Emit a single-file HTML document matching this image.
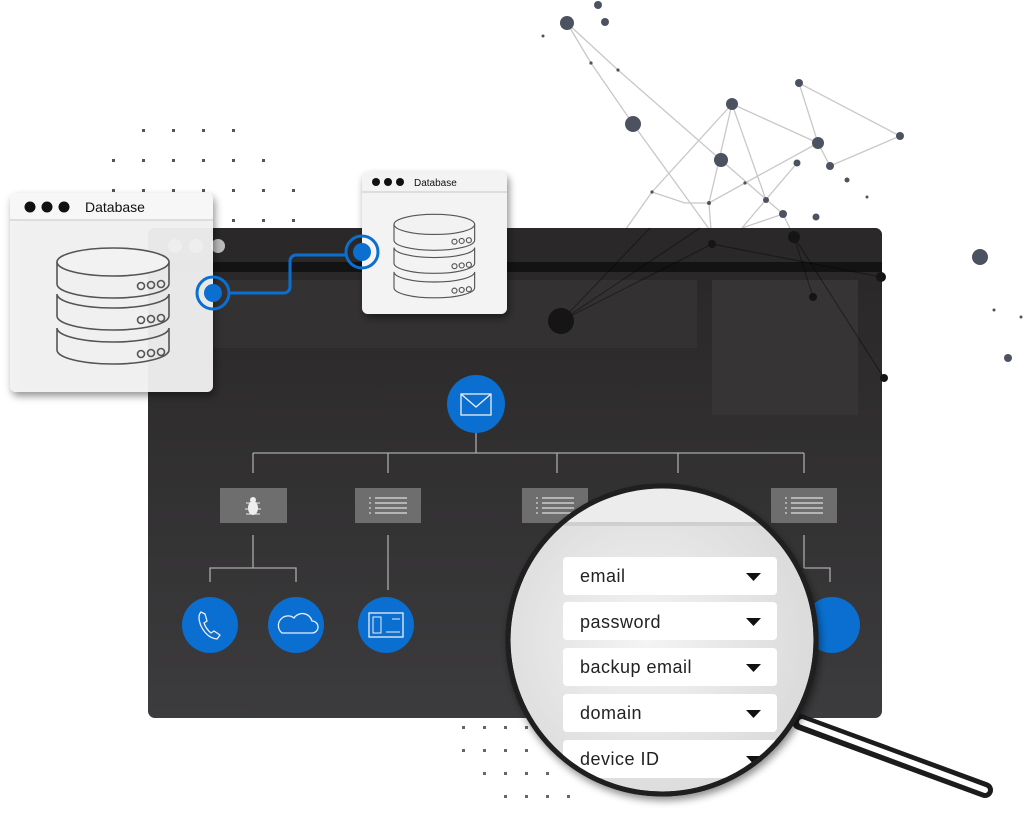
<!DOCTYPE html>
<html><head><meta charset="utf-8"><style>
html,body{margin:0;padding:0;background:#fff;width:1024px;height:813px;overflow:hidden}
svg{display:block}
text{font-family:"Liberation Sans",sans-serif}
</style></head><body>
<svg width="1024" height="813" viewBox="0 0 1024 813" xmlns="http://www.w3.org/2000/svg">
<defs>
<linearGradient id="pg" x1="0" y1="0" x2="0" y2="1"><stop offset="0" stop-color="#282626"/><stop offset="1" stop-color="#3c3b3d"/></linearGradient>
<radialGradient id="mg" cx="0.45" cy="0.5" r="0.6"><stop offset="0" stop-color="#f4f4f4"/><stop offset="1" stop-color="#d8d8d8"/></radialGradient>
<filter id="sh" x="-20%" y="-20%" width="140%" height="140%"><feDropShadow dx="2" dy="4" stdDeviation="4" flood-opacity="0.45"/></filter>
<clipPath id="mc"><circle cx="662" cy="640" r="152"/></clipPath>
<g id="db">
<g fill="none" stroke="#555" stroke-width="1.6">
<path d="M0 20 v22 a56 14 0 0 0 112 0 v-22"/>
<ellipse cx="56" cy="20" rx="56" ry="14" fill="#f2f2f2"/>
<path d="M0 52 a56 14 0 0 0 112 0 M0 52 v22 a56 14 0 0 0 112 0 v-22"/>
<path d="M0 86 a56 14 0 0 0 112 0 M0 86 v22 a56 14 0 0 0 112 0 v-22"/>
<circle cx="84" cy="44" r="3.5"/><circle cx="94" cy="43" r="3.5"/><circle cx="104" cy="42" r="3.5"/>
<circle cx="84" cy="78" r="3.5"/><circle cx="94" cy="77" r="3.5"/><circle cx="104" cy="76" r="3.5"/>
<circle cx="84" cy="112" r="3.5"/><circle cx="94" cy="111" r="3.5"/><circle cx="104" cy="110" r="3.5"/>
</g></g>
<g id="lst"><rect width="66" height="35" fill="#6e6e6e"/><g stroke="#ddd" stroke-width="1.2"><line x1="20" y1="10" x2="52" y2="10"/><line x1="20" y1="15" x2="52" y2="15"/><line x1="20" y1="20" x2="52" y2="20"/><line x1="20" y1="25" x2="52" y2="25"/></g><g fill="#ddd"><circle cx="15" cy="10" r="0.9"/><circle cx="15" cy="15" r="0.9"/><circle cx="15" cy="20" r="0.9"/><circle cx="15" cy="25" r="0.9"/></g></g>
</defs>

<!-- dot grids -->
<g fill="#555">
<g id="r1"><rect x="142" y="129" width="3" height="3"/><rect x="172" y="129" width="3" height="3"/><rect x="202" y="129" width="3" height="3"/><rect x="232" y="129" width="3" height="3"/></g>
<rect x="112" y="159" width="3" height="3"/><rect x="142" y="159" width="3" height="3"/><rect x="172" y="159" width="3" height="3"/><rect x="202" y="159" width="3" height="3"/><rect x="232" y="159" width="3" height="3"/><rect x="262" y="159" width="3" height="3"/>
<rect x="112" y="189" width="3" height="3"/><rect x="142" y="189" width="3" height="3"/><rect x="172" y="189" width="3" height="3"/><rect x="202" y="189" width="3" height="3"/><rect x="232" y="189" width="3" height="3"/><rect x="262" y="189" width="3" height="3"/><rect x="292" y="189" width="3" height="3"/>
<rect x="232" y="219" width="3" height="3"/><rect x="262" y="219" width="3" height="3"/><rect x="292" y="219" width="3" height="3"/>
</g>
<g fill="#666">
<rect x="462" y="726" width="3" height="3"/><rect x="483" y="726" width="3" height="3"/><rect x="504" y="726" width="3" height="3"/><rect x="525" y="726" width="3" height="3"/>
<rect x="462" y="749" width="3" height="3"/><rect x="483" y="749" width="3" height="3"/><rect x="504" y="749" width="3" height="3"/><rect x="525" y="749" width="3" height="3"/>
<rect x="483" y="772" width="3" height="3"/><rect x="504" y="772" width="3" height="3"/><rect x="525" y="772" width="3" height="3"/><rect x="546" y="772" width="3" height="3"/>
<rect x="504" y="795" width="3" height="3"/><rect x="525" y="795" width="3" height="3"/><rect x="546" y="795" width="3" height="3"/><rect x="567" y="795" width="3" height="3"/>
</g>

<!-- network -->
<g stroke="#c8c8c8" stroke-width="1.3" fill="none">
<polyline points="567,23 591,63 633,124 720,244"/>
<polyline points="567,23 618,70 721,160 783,214 794,237"/>
<polyline points="732,104 818,143 799,83 900,136 830,166 818,143"/>
<polyline points="732,104 652,192 561,321"/>
<polyline points="732,104 709,203 712,244"/>
<polyline points="732,104 766,200"/>
<polyline points="652,192 685,203 709,203 745,183 818,143"/>
<polyline points="797,163 736,235 561,321"/>
<polyline points="783,214 745,227 561,321"/>
<polyline points="794,237 813,297"/><polyline points="794,237 884,378"/><polyline points="712,244 881,277"/>
</g>
<g fill="#4d5260">
<circle cx="567" cy="23" r="7"/><circle cx="598" cy="5" r="4"/><circle cx="605" cy="22" r="4"/><circle cx="543" cy="36" r="1.5"/>
<circle cx="591" cy="63" r="1.6"/><circle cx="618" cy="70" r="1.6"/><circle cx="633" cy="124" r="8"/><circle cx="732" cy="104" r="6"/>
<circle cx="799" cy="83" r="4"/><circle cx="721" cy="160" r="7"/><circle cx="818" cy="143" r="6"/><circle cx="900" cy="136" r="4"/>
<circle cx="797" cy="163" r="3.5"/><circle cx="830" cy="166" r="4"/><circle cx="847" cy="180" r="2.5"/><circle cx="867" cy="197" r="1.5"/>
<circle cx="652" cy="192" r="1.6"/><circle cx="709" cy="203" r="2"/><circle cx="745" cy="183" r="1.6"/><circle cx="766" cy="200" r="3"/>
<circle cx="783" cy="214" r="4"/><circle cx="816" cy="217" r="3.5"/>
<circle cx="980" cy="257" r="8"/><circle cx="994" cy="310" r="1.5"/><circle cx="1021" cy="317" r="1.5"/><circle cx="1008" cy="358" r="4"/>
</g>

<!-- dark panel -->
<rect x="148" y="228" width="734" height="490" rx="7" fill="url(#pg)"/>
<rect x="148" y="228" width="734" height="37" rx="7" fill="#2a2828"/>
<rect x="148" y="262" width="734" height="10" fill="#141313"/>
<rect x="213" y="280" width="484" height="68" fill="#333132"/>
<rect x="712" y="280" width="146" height="135" fill="#363435"/>
<g fill="#cfcfcf" opacity="0.9"><circle cx="175" cy="246" r="7"/><circle cx="196" cy="246" r="7"/><circle cx="218" cy="246" r="7"/></g>
<!-- network over panel -->
<g stroke="#000" stroke-opacity="0.35" stroke-width="1.2" fill="none">
<line x1="712" y1="244" x2="561" y2="321"/><line x1="794" y1="237" x2="813" y2="297"/><line x1="794" y1="237" x2="884" y2="378"/><line x1="712" y1="244" x2="881" y2="277"/><line x1="650" y1="228" x2="561" y2="321"/><line x1="700" y1="228" x2="561" y2="321"/>
</g>
<g fill="#151515"><circle cx="561" cy="321" r="13"/><circle cx="712" cy="244" r="4"/><circle cx="794" cy="237" r="6"/><circle cx="813" cy="297" r="4"/><circle cx="881" cy="277" r="5"/><circle cx="884" cy="378" r="4"/></g>

<!-- tree -->
<g stroke="#aaa" stroke-width="1.3" fill="none">
<line x1="476" y1="430" x2="476" y2="453"/><line x1="253" y1="453" x2="804" y2="453"/>
<line x1="253" y1="453" x2="253" y2="473"/><line x1="388" y1="453" x2="388" y2="473"/><line x1="557" y1="453" x2="557" y2="473"/><line x1="678" y1="453" x2="678" y2="473"/><line x1="804" y1="453" x2="804" y2="473"/>
<line x1="253" y1="535" x2="253" y2="568"/><polyline points="210,582 210,568 296,568 296,582"/>
<line x1="388" y1="535" x2="388" y2="590"/>
<line x1="804" y1="535" x2="804" y2="568"/><polyline points="804,568 830,568 830,582"/>
</g>
<circle cx="476" cy="404" r="29" fill="#0a6fd0"/>
<rect x="461" y="394" width="30" height="21" fill="none" stroke="#eee" stroke-width="1.3"/><polyline points="461,394 476,407 491,394" fill="none" stroke="#eee" stroke-width="1.3"/>
<rect x="220" y="488" width="67" height="35" fill="#6e6e6e"/>
<ellipse cx="253" cy="508" rx="5" ry="7" fill="#eee"/><circle cx="253" cy="500" r="3" fill="#eee"/>
<g stroke="#eee" stroke-width="1"><line x1="246" y1="503" x2="260" y2="503"/><line x1="245" y1="509" x2="261" y2="509"/><line x1="246" y1="514" x2="260" y2="514"/></g>
<use href="#lst" x="355" y="488"/><use href="#lst" x="522" y="488"/><use href="#lst" x="771" y="488"/>
<circle cx="210" cy="625" r="28" fill="#0a6fd0"/><circle cx="296" cy="625" r="28" fill="#0a6fd0"/><circle cx="386" cy="625" r="28" fill="#0a6fd0"/><circle cx="832" cy="625" r="28" fill="#0a6fd0"/>
<path d="M201 612 q-4 4 0 14 q6 12 16 13 l3 -4 l-6 -4 l-3 2 q-5 -4 -7 -10 l3 -2 l-2 -7 z" fill="none" stroke="#eee" stroke-width="1.3"/>
<path d="M282 633 h30 a6 6 0 0 0 0 -12 a10 10 0 0 0 -18 -3 a7 7 0 0 0 -12 15 z" fill="none" stroke="#eee" stroke-width="1.3"/>
<rect x="369" y="613" width="34" height="24" fill="none" stroke="#eee" stroke-width="1.3"/><rect x="373" y="617" width="8" height="16" fill="none" stroke="#eee"/><line x1="386" y1="632" x2="400" y2="632" stroke="#eee"/><line x1="392" y1="619" x2="400" y2="619" stroke="#eee"/>

<!-- connector -->
<path d="M230 293 H284 a6 6 0 0 0 6 -6 V261 a6 6 0 0 1 6 -6 H345" fill="none" stroke="#0a6fd0" stroke-width="3"/>

<!-- left window -->
<g filter="url(#sh)">
<rect x="10" y="193" width="203" height="199" rx="6" fill="#f3f3f3" fill-opacity="0.93"/>
</g>
<rect x="10" y="193" width="203" height="27" rx="6" fill="#f7f7f7"/>
<line x1="10" y1="220" x2="213" y2="220" stroke="#ddd" stroke-width="2"/>
<circle cx="30" cy="207" r="5.5" fill="#111"/><circle cx="47" cy="207" r="5.5" fill="#111"/><circle cx="64" cy="207" r="5.5" fill="#111"/>
<text x="85" y="212" font-size="14" fill="#111">Database</text>
<use href="#db" x="57" y="242"/>
<!-- right window -->
<g filter="url(#sh)"><rect x="362" y="172" width="145" height="142" rx="6" fill="#f3f3f3"/></g>
<line x1="362" y1="192" x2="507" y2="192" stroke="#ddd" stroke-width="2"/>
<circle cx="376" cy="182" r="4" fill="#111"/><circle cx="388" cy="182" r="4" fill="#111"/><circle cx="400" cy="182" r="4" fill="#111"/>
<text x="414" y="186" font-size="10" fill="#111">Database</text>
<g transform="translate(394,210) scale(0.72)"><use href="#db"/></g>
<!-- connector ends -->
<circle cx="213" cy="293" r="16" fill="none" stroke="#0a6fd0" stroke-width="3"/><circle cx="213" cy="293" r="9" fill="#0a6fd0"/>
<circle cx="362" cy="252" r="16" fill="none" stroke="#0a6fd0" stroke-width="3"/><circle cx="362" cy="252" r="9" fill="#0a6fd0"/>

<!-- magnifier -->
<line x1="800" y1="722" x2="985" y2="790" stroke="#1c1c1c" stroke-width="16" stroke-linecap="round"/>
<line x1="802" y1="722" x2="985" y2="790" stroke="#fff" stroke-width="6" stroke-linecap="round"/>
<circle cx="662" cy="640" r="154" fill="url(#mg)" stroke="#1f1f1f" stroke-width="5" filter="url(#sh)"/>
<g clip-path="url(#mc)">
<rect x="500" y="480" width="330" height="45" fill="#ececec"/>
<rect x="500" y="522" width="330" height="4" fill="#cfcfcf"/>
<g fill="#fff">
<rect x="563" y="557" width="214" height="38" rx="4"/><rect x="563" y="602" width="214" height="38" rx="4"/><rect x="563" y="648" width="214" height="38" rx="4"/><rect x="563" y="694" width="214" height="38" rx="4"/><rect x="563" y="740" width="214" height="38" rx="4"/>
</g>
<g font-size="18" fill="#222" letter-spacing="0.5">
<text x="580" y="582">email</text><text x="580" y="628">password</text><text x="580" y="673">backup email</text><text x="580" y="719">domain</text><text x="580" y="765">device ID</text>
</g>
<g fill="#111"><path d="M746 573 h15 l-7.5 8z"/><path d="M746 618 h15 l-7.5 8z"/><path d="M746 664 h15 l-7.5 8z"/><path d="M746 710 h15 l-7.5 8z"/><path d="M746 756 h15 l-7.5 8z"/></g>
</g>
<circle cx="662" cy="640" r="154" fill="none" stroke="#1f1f1f" stroke-width="5"/>
</svg>
</body></html>
